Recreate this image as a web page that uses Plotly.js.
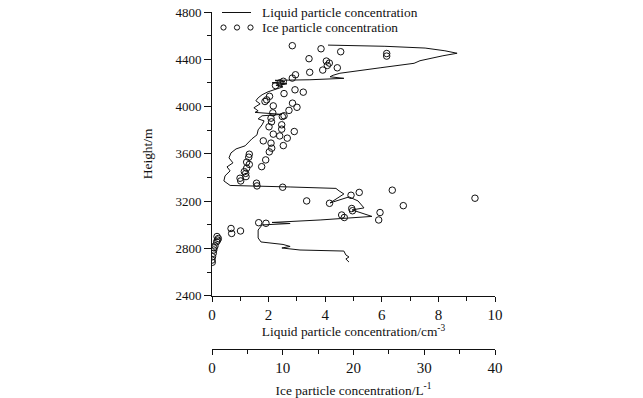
<!DOCTYPE html>
<html>
<head>
<meta charset="utf-8">
<script src="https://cdn.plot.ly/plotly-3.0.1.min.js"></script>
<style>html,body{margin:0;padding:0;background:#fff;}#chart{width:643px;height:398px;}</style>
</head>
<body>
<div id="chart"></div>
<script>
// Liquid particle concentration profile (cm^-3) vs height (m)
const liquidConc = [4.10,6.11,7.53,8.23,8.66,8.16,7.35,7.14,5.94,4.52,4.28,4.17,4.66,3.46,2.23,2.58,2.12,2.65,2.26,2.51,
  1.98,1.77,1.63,1.55,1.70,1.48,1.63,1.52,2.47,1.77,1.63,1.84,1.77,1.63,1.59,1.41,1.17,0.85,0.67,0.60,
  0.74,0.53,0.64,0.46,0.42,0.64,2.76,4.38,4.49,4.66,4.17,4.84,5.16,5.37,4.95,5.65,3.82,2.76,2.12,2.76,
  1.77,1.63,1.63,1.73,2.51,2.76,2.47,3.11,4.66,4.73,4.84,4.73,4.84];
const liquidHeight = [4520,4510,4495,4472,4451,4430,4388,4366,4328,4282,4265,4252,4239,4227,4222,4210,4201,4193,4180,4167,
  4125,4100,4074,4049,4023,3990,3964,3951,3934,3922,3896,3879,3846,3803,3761,3727,3668,3642,3608,3566,
  3524,3490,3456,3414,3371,3333,3320,3308,3287,3261,3185,3236,3202,3143,3126,3071,3041,3028,3020,3011,
  2999,2956,2889,2855,2834,2817,2804,2787,2778,2745,2728,2711,2685];

// Ice particle concentration (L^-1) vs height (m)
const iceConc = [11.35,15.41,18.19,24.69,24.69,13.71,16.16,16.58,16.30,17.71,15.65,13.81,11.80,11.35,10.08,9.61,8.98,11.73,12.90,10.18,
  8.13,7.73,7.49,8.66,11.38,12.01,10.88,8.59,10.18,9.94,8.34,8.41,9.85,8.06,9.85,11.63,8.66,9.57,10.64,7.25,
  8.34,10.08,8.44,8.10,5.27,5.19,7.59,4.90,5.27,7.02,4.90,4.57,4.76,4.81,3.96,4.06,6.29,6.36,9.99,19.65,
  20.81,25.48,13.38,16.61,27.04,37.17,19.75,19.86,23.75,23.56,18.33,18.70,6.60,7.63,2.69,2.78,4.03,0.71,0.89,0.80,
  0.66,0.42,0.28,0.25,0.18,0.07,0.00,0.04];
const iceHeight = [4515,4489,4464,4449,4427,4405,4385,4368,4348,4328,4309,4290,4269,4241,4214,4201,4178,4142,4122,4110,
  4087,4057,4043,4006,4029,3994,3968,3947,3922,3916,3902,3871,3846,3829,3809,3789,3767,3752,3733,3710,
  3691,3670,3648,3617,3597,3572,3549,3530,3511,3492,3479,3450,3435,3408,3394,3371,3352,3329,3318,3250,
  3274,3293,3202,3182,3162,3225,3138,3119,3104,3041,3083,3062,3018,3013,2969,2927,2948,2901,2884,2871,
  2857,2821,2805,2787,2759,2730,2702,2683];

const xTickVals = [0,2,4,6,8,10];
const x2TickVals = [0,10,20,30,40];
const yTickVals = [2400,2800,3200,3600,4000,4400,4800];
const seriesNames = ['Liquid particle concentration', 'Ice particle concentration'];

const FONT = 'Liberation Serif, Times New Roman, serif';
const INK = '#111';
const TXT = 13.4;

const traces = [
  {x: liquidConc, y: liquidHeight, xaxis: 'x', yaxis: 'y', mode: 'lines', type: 'scatter',
   name: seriesNames[0], line: {color: INK, width: 1}},
  {x: iceConc, y: iceHeight, xaxis: 'x2', yaxis: 'y', mode: 'markers', type: 'scatter',
   name: seriesNames[1],
   marker: {symbol: 'circle-open', size: 6.5, color: INK, line: {width: 1, color: INK}}}
];

const axisCommon = {showgrid: false, zeroline: false, showline: true, linecolor: INK, linewidth: 1,
  ticks: 'outside', tickcolor: INK, tickwidth: 1, automargin: false};

// custom legend (paper coordinates; paper spans plot x 212..495, y 12..349 px)
const W = 283, H = 337;
const px2x = p => (p - 212) / W;
const py2y = p => (349 - p) / H;
const legendShapes = [
  {type: 'line', xref: 'paper', yref: 'paper', x0: px2x(222), x1: px2x(251), y0: py2y(12.5), y1: py2y(12.5),
   line: {color: INK, width: 1}}
];
[223.5, 237, 250.5].forEach(cx => {
  legendShapes.push({type: 'circle', xref: 'paper', yref: 'paper', xsizemode: 'pixel', ysizemode: 'pixel',
    xanchor: px2x(cx), yanchor: py2y(27.5), x0: -2.6, x1: 2.6, y0: -2.6, y1: 2.6,
    line: {color: INK, width: 1}});
});
const legendAnn = seriesNames.map((t, i) => ({
  text: t, xref: 'paper', yref: 'paper', x: px2x(260), y: py2y(i === 0 ? 12.5 : 27.5),
  xanchor: 'left', yanchor: 'middle', showarrow: false, font: {family: FONT, size: TXT, color: INK}
}));

const layout = {
  width: 643, height: 398,
  margin: {l: 212, r: 148, t: 12, b: 49},
  paper_bgcolor: '#fff', plot_bgcolor: '#fff',
  font: {family: FONT, color: INK, size: TXT},
  showlegend: false,
  shapes: legendShapes,
  annotations: legendAnn,
  xaxis: Object.assign({}, axisCommon, {
    anchor: 'y', range: [0, 10], tickvals: xTickVals, ticklen: 5,
    minor: {dtick: 1, ticks: 'outside', ticklen: 4, tickcolor: INK, showgrid: false},
    tickfont: {family: FONT, size: 15},
    title: {text: 'Liquid particle concentration/cm<sup>-3</sup>', font: {family: FONT, size: TXT}, standoff: 4}
  }),
  xaxis2: Object.assign({}, axisCommon, {
    overlaying: 'x', anchor: 'free', position: 0, side: 'bottom', range: [0, 40], tickvals: x2TickVals, ticklen: 5,
    minor: {dtick: 5, ticks: 'outside', ticklen: 4, tickcolor: INK, showgrid: false},
    tickfont: {family: FONT, size: 15},
    title: {text: 'Ice particle concentration/L<sup>-1</sup>', font: {family: FONT, size: TXT}, standoff: 10}
  }),
  yaxis: Object.assign({}, axisCommon, {
    domain: [0.158, 1], range: [2400, 4800], tickvals: yTickVals, ticklen: 7,
    minor: {dtick: 200, ticks: 'outside', ticklen: 4, tickcolor: INK, showgrid: false},
    tickfont: {family: FONT, size: 13},
    title: {text: 'Height/m', font: {family: FONT, size: TXT}, standoff: 19}
  })
};

Plotly.newPlot('chart', traces, layout, {displayModeBar: false, staticPlot: true});
</script>
</body>
</html>
